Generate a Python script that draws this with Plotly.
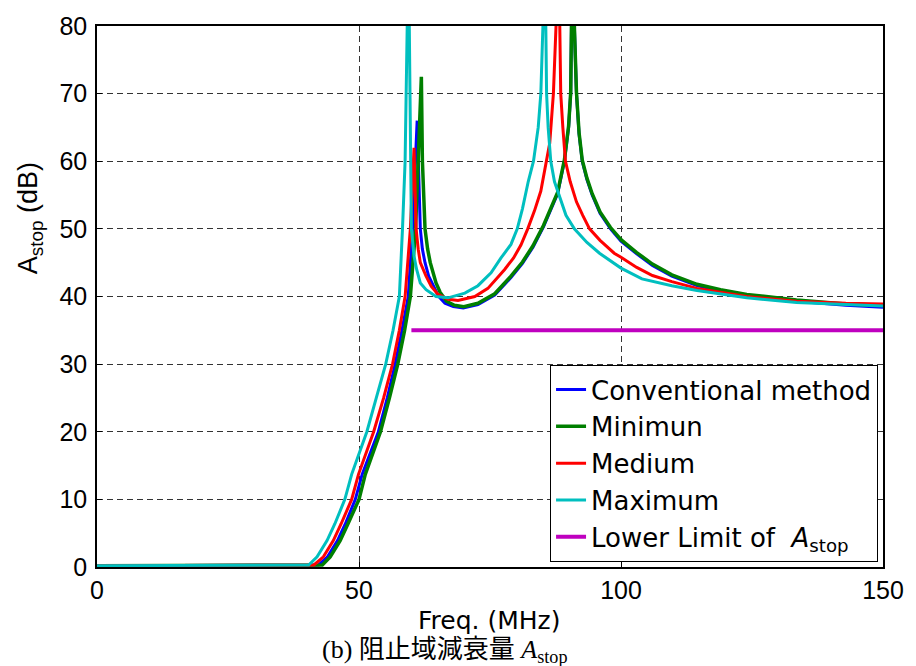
import plotly.graph_objects as go

# ---- data ----
freq_conv = [0, 10, 20, 30, 40, 42.3, 44.0, 45.9, 47.4, 49.3, 50.6, 52.9, 53.7, 55.4, 56.9,
             58.2, 59.4, 60.2, 60.7, 61.1, 61.4, 61.7, 62.1, 62.6, 63.3, 64.2, 65.2, 66.4, 68.0, 69.9,
             72.7, 75.9, 79.0, 81.2, 83.2, 85.2, 86.6, 87.9, 89.2, 90.0, 90.4, 90.6, 90.85, 91.1,
             91.5, 92.0, 92.6, 93.5, 94.5, 96.0, 98.0, 100, 103, 106, 109.7, 114.5, 119, 124, 133.5,
             142.9, 150]
att_conv = [0.2, 0.2, 0.2, 0.2, 0.2, 0.3, 1.5, 3.9, 6.4, 10.0, 13.7, 18.6, 20.0, 25.0, 30.0,
            35.0, 40.0, 50.0, 58.0, 66.0, 58.0, 50.0, 47.0, 45.0, 43.0, 41.5, 40.0, 39.0, 38.5, 38.3,
            38.8, 40.2, 42.8, 44.9, 47.3, 50.3, 52.8, 55.2, 60.0, 65.0, 70.0, 80, 100, 80,
            70.0, 64.0, 60.0, 57.3, 55.0, 52.3, 50.0, 48.2, 46.3, 44.6, 43.0, 41.6, 40.8, 40.1, 39.3,
            38.7, 38.4]

freq_min = [0, 10, 20, 30, 40, 43.0, 44.5, 46.4, 47.9, 50.0, 51.2, 53.4, 54.1, 55.8, 57.4,
            58.7, 59.8, 60.8, 61.3, 61.9, 62.1, 62.6, 63.1, 63.6, 64.7, 65.5, 66.7, 68.2, 70.0,
            72.7, 75.9, 79.0, 81.2, 83.2, 85.2, 86.6, 87.9, 89.2, 90.0, 90.4, 90.6, 90.85, 91.1,
            91.5, 92.0, 92.6, 93.5, 94.5, 96.0, 98.0, 100, 103, 106, 109.7, 114.5, 119, 124, 133.5,
            142.9, 150]
att_min = [0.2, 0.2, 0.2, 0.2, 0.2, 0.3, 1.5, 3.9, 6.4, 10.0, 13.7, 18.6, 20.0, 25.0, 30.0,
           35.0, 40.0, 50.0, 60.0, 72.5, 60.0, 50.0, 47.0, 45.0, 42.0, 40.6, 39.3, 38.7, 38.5,
           39.0, 40.4, 43.0, 45.1, 47.5, 50.5, 53.0, 55.4, 60.2, 65.2, 70.2, 80, 100, 80,
           70.2, 64.2, 60.2, 57.5, 55.2, 52.5, 50.2, 48.4, 46.5, 44.8, 43.2, 41.8, 41.0, 40.3, 39.5,
           38.9, 38.7]

freq_med = [0, 10, 20, 30, 40, 41.4, 43.2, 45.1, 46.6, 48.6, 49.9, 52.1, 52.8, 54.7, 56.4,
            57.7, 58.8, 59.8, 60.2, 60.5, 60.7, 60.9, 61.3, 61.7, 62.8, 63.8, 65.1, 67.0, 68.9,
            72.1, 74.6, 77.8, 79.5, 80.9, 82.2, 83.5, 84.7, 85.8, 86.4, 87.1, 87.6, 87.95, 88.3,
            88.5, 88.9, 89.4, 90.3, 91.5, 92.7, 94.0, 96.0, 98.7, 100, 103, 106, 109.7, 114.5,
            124, 133.5, 142.9, 150]
att_med = [0.2, 0.2, 0.2, 0.2, 0.2, 0.3, 1.5, 3.9, 6.4, 10.0, 13.7, 18.6, 20.0, 25.0, 30.0,
           35.0, 40.0, 50.0, 57.0, 62.0, 56.0, 50.0, 47.0, 45.0, 43.0, 41.5, 40.3, 39.6, 39.4,
           40.0, 41.2, 44.0, 45.7, 47.6, 50.0, 52.7, 55.6, 60.0, 62.7, 70.0, 80, 100, 80,
           70.0, 65.0, 60.0, 57.0, 54.0, 52.0, 50.0, 48.3, 46.4, 45.8, 44.3, 43.1, 42.2, 41.2,
           40.0, 39.3, 39.0, 38.9]

freq_max = [0, 10, 20, 30, 38, 40.4, 42.0, 43.9, 45.4, 47.3, 48.6, 50.9, 51.5, 53.3, 55.1,
            56.5, 57.7, 58.3, 58.8, 59.2, 59.4, 59.6, 59.8, 60.0, 60.5, 61.0, 61.7, 62.8, 64.7,
            67.0, 70.2, 72.7, 75.2, 77.1, 79.0, 80.2, 81.2, 82.3, 83.3, 84.2, 84.7, 85.1, 85.35, 85.6,
            85.8, 86.1, 86.6, 87.3, 88.2, 89.5, 91.1, 93.5, 95.9, 100, 104, 109.7, 114.5, 124,
            133.5, 142.9, 150]
att_max = [0.2, 0.2, 0.2, 0.2, 0.2, 0.3, 1.5, 3.9, 6.4, 10.0, 13.7, 18.6, 20.0, 25.0, 30.0,
           35.0, 40.0, 50.0, 60.0, 80, 100, 80, 60.0, 50.0, 46.0, 44.0, 42.0, 41.0, 40.0,
           39.8, 40.5, 41.6, 43.5, 45.7, 47.7, 50.0, 53.0, 57.0, 60.0, 65.0, 70.0, 80, 100, 80,
           70.0, 65.0, 60.0, 57.0, 55.0, 52.0, 50.0, 48.0, 46.4, 44.2, 42.6, 41.6, 40.9, 39.8,
           39.1, 38.8, 38.6]

freq_limit = [60, 150]
att_limit = [35, 35]

x_ticks = [0, 50, 100, 150]
y_ticks = [0, 10, 20, 30, 40, 50, 60, 70, 80]

series = [
    ("Conventional method", freq_conv, att_conv, "#0000ff", 3),
    ("Minimun", freq_min, att_min, "#007f00", 3.5),
    ("Medium", freq_med, att_med, "#ff0000", 3),
    ("Maximum", freq_max, att_max, "#00bfbf", 3),
    ("Lower Limit of  <i>A</i><sub>stop</sub>", freq_limit, att_limit, "#bf00bf", 4),
]

fig = go.Figure()
for name, xs, ys, color, w in series:
    fig.add_trace(go.Scatter(x=xs, y=ys, mode="lines", name=name,
                             line=dict(color=color, width=w)))

axis_common = dict(
    showgrid=True, gridcolor="#333333", griddash="6px,4px", gridwidth=1,
    showline=True, linecolor="black", linewidth=1.5, mirror=True,
    ticks="inside", ticklen=5, tickcolor="black", tickwidth=1,
    zeroline=False,
    tickfont=dict(family="Liberation Sans, Arial, sans-serif", size=25, color="black"),
)

fig.update_xaxes(range=[0, 150], tickvals=x_ticks, ticktext=[str(v) for v in x_ticks], **axis_common)
fig.update_yaxes(range=[0, 80], tickvals=y_ticks, ticktext=[str(v) for v in y_ticks],
                 ticklabelstandoff=3, **axis_common)

fig.update_layout(
    width=916, height=666,
    margin=dict(l=97, r=29, t=20, b=99),
    plot_bgcolor="white", paper_bgcolor="white",
    legend=dict(
        x=0.9937, xanchor="right", y=0.009, yanchor="bottom",
        bgcolor="white", bordercolor="black", borderwidth=1,
        font=dict(family="DejaVu Sans, sans-serif", size=26, color="black"),
    ),
    annotations=[
        dict(text="Freq. (MHz)", xref="paper", yref="paper", x=0.499, y=-0.099,
             xanchor="center", yanchor="middle", showarrow=False,
             font=dict(family="DejaVu Sans, sans-serif", size=25, color="black")),
        dict(text="A<sub>stop</sub> (dB)", xref="paper", yref="paper", x=-0.085, y=0.645,
             xanchor="center", yanchor="middle", showarrow=False, textangle=-90,
             font=dict(family="Liberation Sans, Arial, sans-serif", size=27, color="black")),
        dict(text="(b) 阻止域減衰量 <i>A</i><sub>stop</sub>", xref="paper", yref="paper",
             x=0.443, y=-0.156, xanchor="center", yanchor="middle", showarrow=False,
             font=dict(family="Liberation Serif, Noto Sans CJK JP, serif", size=26, color="black")),
    ],
)

fig.write_html("out.html")
